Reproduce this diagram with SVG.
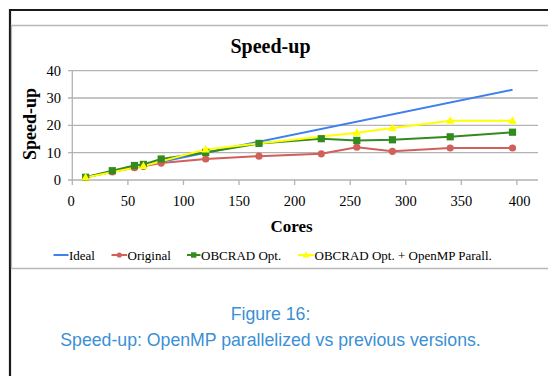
<svg xmlns="http://www.w3.org/2000/svg" width="548" height="376" viewBox="0 0 548 376">
<style>
.serif{font-family:"Liberation Serif","Times New Roman",serif;fill:#000}
.tick{font-size:14.5px}
.grid{stroke:#b3b3b3;stroke-width:1.3;fill:none}
.ser{fill:none;stroke-width:2;stroke-linejoin:round}
.leg{font-size:13px}
.cap{font-family:"Liberation Sans",Arial,sans-serif;font-size:17.7px;fill:#3a8fd5;text-anchor:middle}
</style>
<defs>
<circle id="mc" r="3.6" fill="#d0605a"/>
<rect id="ms" x="-3.6" y="-3.6" width="7.2" height="7.2" fill="#338a1f"/>
<polygon id="mt" points="0,-4.5 4.3,3 -4.3,3" fill="#ffff00"/>
</defs>
<rect width="548" height="376" fill="#fff"/>
<g id="frame">
<path d="M10,376 V10 H548" fill="none" stroke="#1a1a1a" stroke-width="2.2"/>
<path d="M11.5,268.5 V25.5 H548 M11.5,268.5 H548" fill="none" stroke="#b8b8b8" stroke-width="1.3"/>
</g>
<g id="title"><text class="serif" x="270.5" y="53" font-size="20" font-weight="bold" text-anchor="middle">Speed-up</text></g>
<g id="axes">
<path class="grid" d="M68,70.7 H538 M68,98 H538 M68,125.3 H538 M68,152.7 H538 M68,180 H538"/>
<path class="grid" d="M72.3,70.7 V180 M72.3,180 V185 M127.9,180 V185 M183.5,180 V185 M239,180 V185 M294.6,180 V185 M350.2,180 V185 M405.8,180 V185 M461.3,180 V185 M516.9,180 V185"/>
<g class="serif tick" text-anchor="end">
<text x="61" y="75.5">40</text><text x="61" y="102.8">30</text><text x="61" y="130.1">20</text><text x="61" y="157.5">10</text><text x="61" y="184.8">0</text>
</g>
<g class="serif tick" text-anchor="middle">
<text x="71" y="205.5">0</text><text x="127.9" y="205.5">50</text><text x="183.5" y="205.5">100</text><text x="239" y="205.5">150</text><text x="294.6" y="205.5">200</text><text x="350.2" y="205.5">250</text><text x="405.8" y="205.5">300</text><text x="461.3" y="205.5">350</text><text x="519.5" y="205.5">400</text>
</g>
<text class="serif" transform="translate(35.5,124) rotate(-90)" font-size="18" font-weight="bold" text-anchor="middle">Speed-up</text>
<text class="serif" x="291.5" y="232" font-size="17" font-weight="bold" text-anchor="middle">Cores</text>
</g>
<g id="connectors">
<polyline id="ideal" class="ser" stroke="#3f7fef" points="85.6,177.3 512.5,89.8"/>
<polyline id="original" class="ser" stroke="#d0605a" points="85.6,177.3 112.3,171.8 134.5,167.7 143.4,166.3 161.2,163.1 205.7,159 259,156.2 321.3,153.8 356.8,147.2 392.4,151.3 450.2,148 512.5,148"/>
<polyline id="obcrad" class="ser" stroke="#338a1f" points="85.6,177.3 112.3,170.7 134.5,165.5 143.4,164.4 161.2,159 205.7,152.4 259,143.4 321.3,138.7 356.8,140.4 392.4,139.8 450.2,136.8 512.5,132.2"/>
<polyline id="openmp" class="ser" stroke="#ffff00" points="85.6,177.5 143.4,166.1 205.7,149.4 356.8,132.7 392.4,128.1 450.2,120.7 512.5,120.7"/>
</g>
<g id="original-markers">
<use href="#mc" x="85.6" y="177.3"/><use href="#mc" x="112.3" y="171.8"/><use href="#mc" x="134.5" y="167.7"/><use href="#mc" x="143.4" y="166.3"/><use href="#mc" x="161.2" y="163.1"/><use href="#mc" x="205.7" y="159"/><use href="#mc" x="259" y="156.2"/><use href="#mc" x="321.3" y="153.8"/><use href="#mc" x="356.8" y="147.2"/><use href="#mc" x="392.4" y="151.3"/><use href="#mc" x="450.2" y="148"/><use href="#mc" x="512.5" y="148"/>
</g>
<g id="obcrad-markers">
<use href="#ms" x="85.6" y="177.3"/><use href="#ms" x="112.3" y="170.7"/><use href="#ms" x="134.5" y="165.5"/><use href="#ms" x="143.4" y="164.4"/><use href="#ms" x="161.2" y="159"/><use href="#ms" x="205.7" y="152.4"/><use href="#ms" x="259" y="143.4"/><use href="#ms" x="321.3" y="138.7"/><use href="#ms" x="356.8" y="140.4"/><use href="#ms" x="392.4" y="139.8"/><use href="#ms" x="450.2" y="136.8"/><use href="#ms" x="512.5" y="132.2"/>
</g>
<g id="openmp-markers">
<use href="#mt" x="85.6" y="177.5"/><use href="#mt" x="143.4" y="166.1"/><use href="#mt" x="205.7" y="149.4"/><use href="#mt" x="356.8" y="132.7"/><use href="#mt" x="392.4" y="128.1"/><use href="#mt" x="450.2" y="120.7"/><use href="#mt" x="512.5" y="120.7"/>
</g>
<g id="legend">
<line x1="53.5" y1="255" x2="68.5" y2="255" stroke="#3f7fef" stroke-width="2"/>
<text class="serif leg" x="69" y="259.5">Ideal</text>
<line x1="111.5" y1="255" x2="127" y2="255" stroke="#d0605a" stroke-width="2"/><circle cx="119.3" cy="255" r="2.6" fill="#d0605a"/>
<text class="serif leg" x="127.5" y="259.5">Original</text>
<line x1="187" y1="255" x2="200.5" y2="255" stroke="#338a1f" stroke-width="2"/><rect x="191" y="252.3" width="5.4" height="5.4" fill="#338a1f"/>
<text class="serif leg" x="201" y="259.5">OBCRAD Opt.</text>
<line x1="298" y1="255" x2="314" y2="255" stroke="#ffff00" stroke-width="2"/><polygon points="306,251.5 309.5,257.5 302.5,257.5" fill="#ffff00"/>
<text class="serif leg" x="314.5" y="259.5">OBCRAD Opt. + OpenMP Parall.</text>
</g>
<g id="caption">
<text class="cap" x="270.5" y="320">Figure 16:</text>
<text class="cap" x="270.5" y="345.5">Speed-up: OpenMP parallelized vs previous versions.</text>
</g>
</svg>
